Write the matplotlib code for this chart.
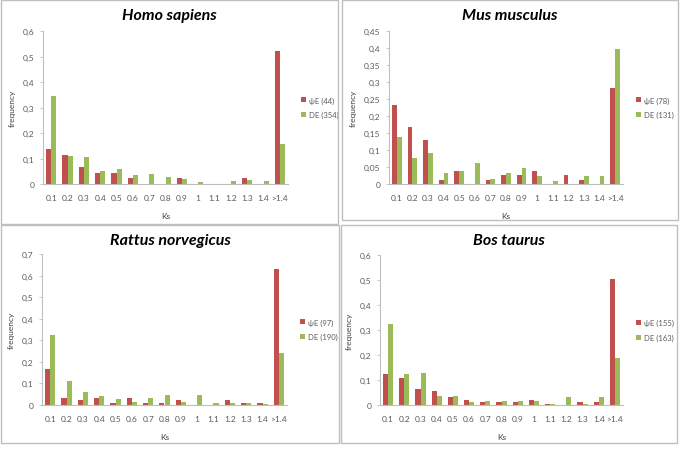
import numpy as np
import matplotlib as mpl
mpl.use('Agg')
import matplotlib.pyplot as plt
from matplotlib.patches import Rectangle

plt.rcParams['font.family'] = ['Lato', 'DejaVu Sans']

ks_labels = ['0.1', '0.2', '0.3', '0.4', '0.5', '0.6', '0.7', '0.8', '0.9',
             '1', '1.1', '1.2', '1.3', '1.4', '>1.4']

homo_psi = [0.136, 0.114, 0.068, 0.045, 0.045, 0.023, 0, 0, 0.023, 0, 0, 0, 0.023, 0, 0.523]
homo_de = [0.345, 0.110, 0.107, 0.051, 0.059, 0.037, 0.040, 0.028, 0.020, 0.008, 0, 0.011, 0.014, 0.011, 0.158]

mus_psi = [0.231, 0.167, 0.128, 0.013, 0.038, 0, 0.013, 0.026, 0.026, 0.038, 0, 0.026, 0.013, 0, 0.282]
mus_de = [0.137, 0.076, 0.092, 0.031, 0.038, 0.061, 0.015, 0.031, 0.046, 0.023, 0.008, 0, 0.023, 0.023, 0.397]

rat_psi = [0.165, 0.031, 0.021, 0.031, 0.010, 0.031, 0.010, 0.010, 0.021, 0, 0, 0.021, 0.010, 0.010, 0.629]
rat_de = [0.326, 0.111, 0.058, 0.042, 0.026, 0.016, 0.032, 0.047, 0.016, 0.047, 0.011, 0.011, 0.011, 0.005, 0.242]

bos_psi = [0.123, 0.110, 0.065, 0.058, 0.032, 0.019, 0.013, 0.013, 0.013, 0.019, 0.006, 0, 0.013, 0.013, 0.503]
bos_de = [0.325, 0.123, 0.129, 0.037, 0.037, 0.012, 0.018, 0.018, 0.018, 0.018, 0.006, 0.031, 0.006, 0.031, 0.190]

panels = [
    # title, psi, de, psi label, de label, ymax, ystep, axes box px (l, r, t, b), panel box px (l, r, t, b)
    ('Homo sapiens', homo_psi, homo_de, '\u03c8E (44)', 'DE (354)', 0.6, 0.1,
     (43, 288, 32, 185), (1, 338, 1, 225)),
    ('Mus musculus', mus_psi, mus_de, '\u03c8E (78)', 'DE (131)', 0.45, 0.05,
     (389, 623, 32, 185), (342, 678, 1, 221)),
    ('Rattus norvegicus', rat_psi, rat_de, '\u03c8E (97)', 'DE (190)', 0.7, 0.1,
     (42, 287, 255, 406), (1, 339, 226, 444)),
    ('Bos taurus', bos_psi, bos_de, '\u03c8E (155)', 'DE (163)', 0.6, 0.1,
     (380, 623, 256, 406), (341, 677, 226, 444)),
]

W, H = 685, 452
red = '#C0504D'
green = '#9BBB59'
grey = '#595959'

fig = plt.figure(figsize=(W / 100, H / 100), dpi=100)

x = np.arange(len(ks_labels))
bw = 0.31

for title, psi, de, lab1, lab2, ymax, ystep, ab, pb in panels:
    pl, pr, pt, pbm = pb
    fig.patches.append(Rectangle((pl / W, 1 - pbm / H), (pr - pl) / W, (pbm - pt) / H,
                                 transform=fig.transFigure, fill=False,
                                 edgecolor='#BFBFBF', linewidth=1.0))
    l, r, t, b = ab
    ax = fig.add_axes([l / W, 1 - b / H, (r - l) / W, (b - t) / H])
    ax.bar(x - bw / 2, psi, bw, color=red, label=lab1)
    ax.bar(x + bw / 2, de, bw, color=green, label=lab2)
    ax.set_xlim(-0.5, len(ks_labels) - 0.5)
    ax.set_ylim(0, ymax)
    yt = np.arange(0, ymax + ystep / 2, ystep)
    ax.set_yticks(yt)
    ax.set_yticklabels(['0' if v == 0 else ('%g' % round(v, 2)).replace('.', ',') for v in yt])
    ax.set_xticks(x)
    ax.set_xticklabels(ks_labels)
    ax.tick_params(axis='x', length=0, labelsize=6, colors=grey, pad=7)
    ax.tick_params(axis='y', length=2, labelsize=6, colors='#BFBFBF', labelcolor=grey,
                   pad=4, width=0.6)
    for s in ['top', 'right']:
        ax.spines[s].set_visible(False)
    for s in ['left', 'bottom']:
        ax.spines[s].set_color('#BFBFBF')
        ax.spines[s].set_linewidth(0.8)
    ax.set_xlabel('Ks', fontsize=6, color='#404040', labelpad=8)
    ax.set_ylabel('frequency', fontsize=6, color='#404040', labelpad=5)
    cx = (pl + pr) / 2 / W
    fig.text(cx, 1 - (pt + 15) / H, title, ha='center', va='center',
             fontsize=11.5, fontweight='bold', fontstyle='italic', color='black')
    ax.legend(loc='center left', bbox_to_anchor=((r + 13) / W, 1 - (t + b) / 2 / H),
              bbox_transform=fig.transFigure, frameon=False, fontsize=5.5,
              handlelength=0.6, handleheight=0.6, handletextpad=0.4,
              labelspacing=1.0, labelcolor=grey, borderaxespad=0, borderpad=0)

plt.savefig('out.png', dpi=100)
